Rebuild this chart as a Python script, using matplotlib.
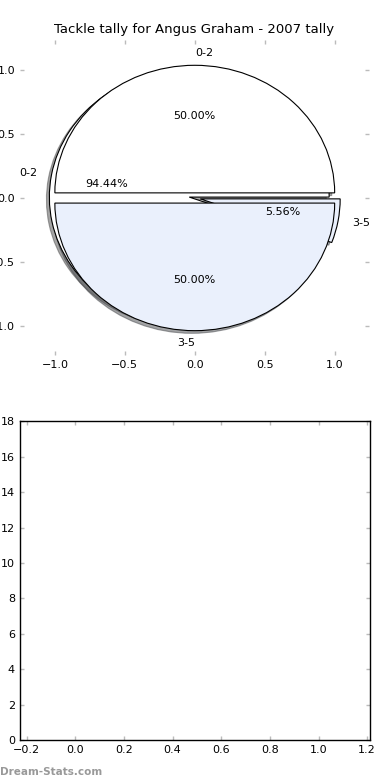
import matplotlib
matplotlib.use("Agg")
import matplotlib.pyplot as plt

title = "Tackle tally for Angus Graham - 2007 tally"
labels_a = ["0-2", "3-5"]
values_a = [50.0, 50.0]
labels_b = ["0-2", "3-5"]
values_b = [94.44, 5.56]
colors = ["#ffffff", "#eaf0fc"]

plt.rcParams['font.family'] = ['DejaVu Sans']
fig = plt.figure(figsize=(3.9, 7.8), dpi=100)

ax1 = fig.add_axes([0.051, 0.545, 0.895, 0.404])
shadow = {'ox': -0.015, 'oy': -0.015, 'shade': 0.7}
ax1.pie(values_b, labels=labels_b, colors=colors, explode=[0.04, 0.04],
        autopct='%1.2f%%', shadow=shadow, startangle=0, frame=True,
        wedgeprops=dict(linewidth=0.8, edgecolor='black'),
        textprops=dict(fontsize=8))
_, texts_a, _ = ax1.pie(values_a, labels=labels_a, colors=colors,
                        explode=[0.04, 0.04], autopct='%1.2f%%',
                        shadow=shadow, startangle=0, frame=True,
                        wedgeprops=dict(linewidth=0.8, edgecolor='black'),
                        textprops=dict(fontsize=8))
texts_a[0].set_ha('left')
texts_a[1].set_ha('right')
ax1.set_aspect('auto')
ax1.set_xlim(-1.25, 1.245)
ax1.set_ylim(-1.23, 1.24)
ax1.set_xticks([-1.0, -0.5, 0.0, 0.5, 1.0])
ax1.set_yticks([-1.0, -0.5, 0.0, 0.5, 1.0])
for s in ax1.spines.values():
    s.set_visible(False)
ax1.tick_params(direction='in', length=3, width=1, color='#bbbbbb',
                labelsize=8, top=True, right=True)
ax1.set_title(title, fontsize=9.5, pad=5)

ax2 = fig.add_axes([0.051, 0.051, 0.898, 0.409])
ax2.set_xlim(-0.228, 1.212)
ax2.set_ylim(0, 18)
ax2.set_xticks([-0.2, 0.0, 0.2, 0.4, 0.6, 0.8, 1.0, 1.2])
ax2.set_yticks(range(0, 19, 2))
ax2.tick_params(direction='in', length=3, width=1, color='#bbbbbb',
                labelsize=8, top=True, right=True)
for s in ax2.spines.values():
    s.set_linewidth(1.0)

fig.text(0.0, 0.004, "Dream-Stats.com", fontsize=7.5, color='#999999',
         fontweight='bold', ha='left', va='bottom')

fig.savefig("out.png", dpi=100)
